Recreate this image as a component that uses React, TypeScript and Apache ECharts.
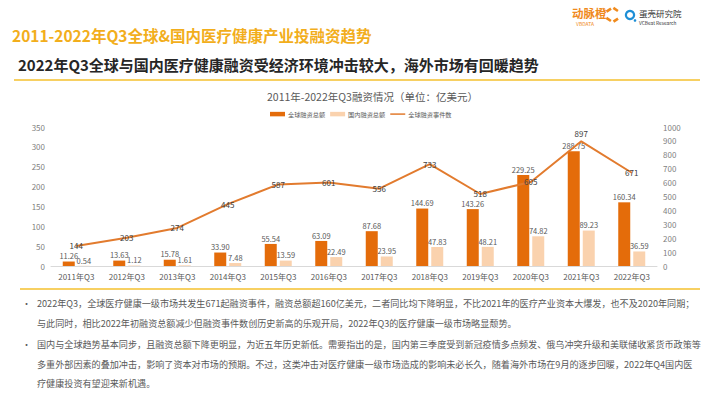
import React, { useEffect, useRef } from "react";
import * as echarts from "echarts";

const categories = [
  "2011年Q3", "2012年Q3", "2013年Q3", "2014年Q3", "2015年Q3", "2016年Q3",
  "2017年Q3", "2018年Q3", "2019年Q3", "2020年Q3", "2021年Q3", "2022年Q3",
];
const globalAmount = [11.26, 13.63, 15.78, 33.9, 55.54, 63.09, 87.68, 144.69, 143.26, 229.25, 288.75, 160.34];
const domesticAmount = [0.54, 1.12, 1.61, 7.48, 13.59, 22.49, 23.95, 47.83, 48.21, 74.82, 89.23, 36.59];
const globalEvents = [144, 203, 274, 445, 587, 601, 556, 733, 518, 605, 897, 671];

const seriesNames = ["全球融资总额", "国内融资总额", "全球融资事件数"];
const headTitle = "2011-2022年Q3全球&国内医疗健康产业投融资趋势";
const subTitle = "2022年Q3全球与国内医疗健康融资受经济环境冲击较大，海外市场有回暖趋势";
const chartTitle = "2011年-2022年Q3融资情况（单位：亿美元）";
const paragraphs = [
  [
    "2022年Q3，全球医疗健康一级市场共发生671起融资事件，融资总额超160亿美元，二者同比均下降明显，不比2021年的医疗产业资本大爆发，也不及2020年同期；",
    "与此同时，相比2022年初融资总额减少但融资事件数创历史新高的乐观开局，2022年Q3的医疗健康一级市场略显颓势。",
  ],
  [
    "国内与全球趋势基本同步，且融资总额下降更明显，为近五年历史新低。需要指出的是，国内第三季度受到新冠疫情多点频发、俄乌冲突升级和美联储收紧货币政策等",
    "多重外部因素的叠加冲击，影响了资本对市场的预期。不过，这类冲击对医疗健康一级市场造成的影响未必长久，随着海外市场在9月的逐步回暖，2022年Q4国内医",
    "疗健康投资有望迎来新机遇。",
  ],
];

const FONT = "'Noto Sans CJK SC', 'Noto Sans', sans-serif";
const ORANGE = "#E46C0A";
const PEACH = "#FAD2AE";
const LINE = "#E27B2E";
const GREY = "#595959";
const YELLOW = "#F5C12E";

function buildGraphic() {
  const g: any[] = [];
  g.push({
    type: "text", left: 12, top: 27,
    style: { text: headTitle, fill: "#F2AE1C", fontSize: 15.5, fontWeight: "bold", fontFamily: FONT },
  });
  g.push({
    type: "text", left: 18, top: 57,
    style: { text: subTitle, fill: "#262626", fontSize: 15, fontWeight: "bold", fontFamily: FONT },
  });
  g.push({ type: "line", shape: { x1: 14, y1: 80, x2: 700, y2: 80 }, style: { stroke: YELLOW, lineWidth: 1.5 } });
  g.push({ type: "line", shape: { x1: 20, y1: 289, x2: 700, y2: 289 }, style: { stroke: YELLOW, lineWidth: 1.5 } });

  g.push({
    type: "text", x: 572, y: 13,
    style: { text: "动脉橙", fill: "#F08A1C", fontSize: 11.5, fontWeight: "bold", fontFamily: FONT, verticalAlign: "middle" },
  });
  g.push({
    type: "text", x: 576, y: 23.5,
    style: { text: "VBDATA", fill: "#F08A1C", fontSize: 5, fontFamily: FONT, verticalAlign: "middle" },
  });
  const dashes = [
    { x: 606, y: 9, r: 0.6 },
    { x: 613, y: 8, r: -0.6 },
    { x: 606, y: 18, r: -0.6 },
    { x: 613, y: 19, r: 0.6 },
  ];
  dashes.forEach((d) =>
    g.push({
      type: "rect", x: d.x, y: d.y, rotation: d.r, originX: 2.5, originY: 1.2,
      shape: { x: 0, y: 0, width: 5.5, height: 2.6 },
      style: { fill: "#F08A1C" },
    })
  );
  g.push({ type: "ring", shape: { cx: 630, cy: 15, r: 5.2, r0: 3 }, style: { fill: "#1E8FD6" } });
  g.push({ type: "circle", shape: { cx: 635, cy: 20.5, r: 1.3 }, style: { fill: "#1E8FD6" } });
  g.push({
    type: "text", x: 639, y: 13,
    style: { text: "蛋壳研究院", fill: "#333", fontSize: 8.5, fontFamily: FONT, verticalAlign: "middle" },
  });
  g.push({
    type: "text", x: 639, y: 22,
    style: { text: "VCBeat Research", fill: "#333", fontSize: 4.8, fontFamily: FONT, verticalAlign: "middle" },
  });

  let y = 303;
  paragraphs.forEach((lines, pi) => {
    g.push({
      type: "text", x: 22, y,
      style: { text: "•", fill: GREY, fontSize: 9, fontFamily: FONT, verticalAlign: "middle" },
    });
    lines.forEach((ln) => {
      g.push({
        type: "text", x: 37, y,
        style: { text: ln, fill: GREY, fontSize: 9.1, fontFamily: FONT, verticalAlign: "middle" },
      });
      y += 19.5;
    });
    if (pi === 0) y += 2;
  });
  return g;
}

export default function App() {
  const ref = useRef<HTMLDivElement>(null);
  useEffect(() => {
    const chart = echarts.init(ref.current!, null, { renderer: "svg" });
    const barLabel = {
      show: true, position: "top", distance: 2, color: GREY, fontSize: 7.5, fontFamily: FONT,
      formatter: (p: any) => Number(p.value).toFixed(2),
    };
    const peak = Math.max(...globalEvents);
    chart.setOption({
      animation: false,
      backgroundColor: "#ffffff",
      textStyle: { fontFamily: FONT },
      title: {
        text: chartTitle, left: 262, top: 86,
        textStyle: { fontSize: 10.5, fontWeight: "normal", color: GREY, fontFamily: FONT },
      },
      legend: {
        left: 265, top: 106, itemWidth: 15, itemHeight: 4.5, itemGap: 5,
        textStyle: { fontSize: 6.2, color: GREY, fontFamily: FONT, padding: [0, 0, 0, -2] },
        data: [
          { name: seriesNames[0], icon: "rect" },
          { name: seriesNames[1], icon: "rect" },
          { name: seriesNames[2], icon: "path://M0,0 L20,0 L20,2 L0,2 Z" },
        ],
      },
      grid: { left: 51, right: 53, top: 127, bottom: 133, containLabel: false },
      xAxis: {
        type: "category", data: categories,
        axisLine: { lineStyle: { color: "#D9D9D9" } },
        axisTick: { show: false },
        axisLabel: { color: GREY, fontSize: 8, margin: 6, fontFamily: FONT },
      },
      yAxis: [
        {
          type: "value", min: 0, max: 350, interval: 50,
          axisLine: { show: false }, axisTick: { show: false }, splitLine: { show: false },
          axisLabel: { color: "#7F7F7F", fontSize: 8, margin: 6, fontFamily: FONT },
        },
        {
          type: "value", min: 0, max: 1000, interval: 100,
          axisLine: { show: false }, axisTick: { show: false }, splitLine: { show: false },
          axisLabel: { color: "#7F7F7F", fontSize: 8, margin: 6, fontFamily: FONT, formatter: (v: number) => String(v) },
        },
      ],
      series: [
        {
          name: seriesNames[0], type: "bar", data: globalAmount, barWidth: 12, barGap: "25%",
          itemStyle: { color: ORANGE }, label: barLabel,
        },
        {
          name: seriesNames[1], type: "bar", data: domesticAmount, barWidth: 12,
          itemStyle: { color: PEACH }, label: barLabel,
        },
        {
          name: seriesNames[2], type: "line", yAxisIndex: 1,
          data: globalEvents.map((v) =>
            v === peak ? { value: v, label: { position: "top", distance: 3 } } : v
          ),
          symbol: "circle", symbolSize: 1, showSymbol: true, z: 5,
          lineStyle: { color: LINE, width: 2 }, itemStyle: { color: LINE },
          label: { show: true, position: "inside", color: "#404040", fontSize: 8, fontFamily: FONT },
        },
      ],
      graphic: buildGraphic(),
    });
    return () => chart.dispose();
  }, []);
  return (
    <div
      ref={ref}
      style={{ position: "fixed", left: 0, top: 0, width: 710, height: 399, background: "#fff" }}
    />
  );
}
